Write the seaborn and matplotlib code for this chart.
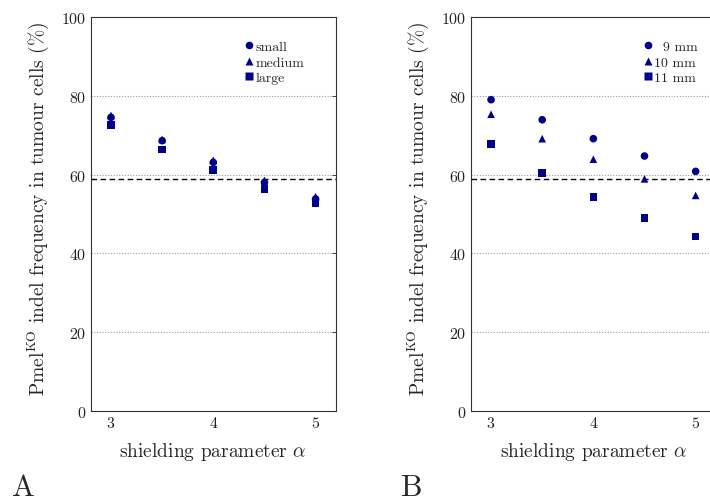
import matplotlib
matplotlib.use("Agg")
import matplotlib.pyplot as plt
import seaborn as sns
import pandas as pd

# Shielding parameter values
alpha = [3.0, 3.5, 4.0, 4.5, 5.0]

# Panel A: tumour size classes
small = [74.5, 68.6, 63.1, 58.0, 53.8]
medium = [75.0, 68.9, 63.6, 58.5, 54.4]
large = [72.5, 66.4, 61.2, 56.4, 52.8]

# Panel B: tumour diameters
d9 = [79.0, 73.9, 69.1, 64.7, 60.8]
d10 = [75.3, 69.1, 63.9, 58.9, 54.7]
d11 = [67.8, 60.4, 54.3, 48.9, 44.3]

# Reference (unshielded) frequency
baseline = 58.8

sns.set_theme(style="white")
plt.rcParams["font.family"] = ["cmr10", "DejaVu Serif"]
plt.rcParams["mathtext.fontset"] = "cm"
plt.rcParams["axes.formatter.use_mathtext"] = True

navy = "#00008B"

fig = plt.figure(figsize=(7.10, 5.02), dpi=100)
axA = fig.add_axes([0.1275, 0.1793, 0.3458, 0.785])
axB = fig.add_axes([0.6628, 0.1793, 0.3458, 0.785])


def long_form(series):
    rows = []
    for name, vals in series:
        for a, v in zip(alpha, vals):
            rows.append({"alpha": a, "freq": v, "group": name})
    return pd.DataFrame(rows)


dfA = long_form([("small", small), ("medium", medium), ("large", large)])
dfB = long_form([("\u2007" + "9 mm", d9), ("10 mm", d10), ("11 mm", d11)])

for ax, df, order, anchor in [
    (axA, dfA, ["small", "medium", "large"], (0.91, 0.965)),
    (axB, dfB, ["\u2007" + "9 mm", "10 mm", "11 mm"], (0.965, 0.965)),
]:
    for y in [20, 40, 60, 80]:
        ax.axhline(y, color="#999999", linestyle=(0, (1, 1.5)), linewidth=0.8, zorder=0)
    ax.axhline(baseline, color="black", linestyle=(0, (4, 2.5)), linewidth=1.0, zorder=1)
    sns.scatterplot(
        data=df, x="alpha", y="freq", style="group", style_order=order,
        markers={order[0]: "o", order[1]: "^", order[2]: "s"},
        color=navy, s=30, edgecolor="none", ax=ax, zorder=3,
    )
    ax.set_xlim(2.8, 5.2)
    ax.set_ylim(0, 100)
    ax.set_xticks([3, 4, 5])
    ax.set_yticks([0, 20, 40, 60, 80, 100])
    ax.tick_params(axis="both", direction="in", length=3, width=0.6,
                   labelsize=11.5, colors="#222222", pad=3)
    ax.tick_params(axis="y", right=True)
    ax.set_xlabel(r"shielding parameter $\alpha$", fontsize=14, labelpad=7)
    ax.set_ylabel(r"Pmel$^{\mathrm{KO}}$ indel frequency in tumour cells (%)",
                  fontsize=14, labelpad=3)
    ax.yaxis.set_label_coords(-0.16, 0.515)
    for sp in ax.spines.values():
        sp.set_color("#333333")
        sp.set_linewidth(0.8)
    leg = ax.legend(loc="upper right", bbox_to_anchor=anchor, frameon=False,
                    fontsize=10, handletextpad=0.05, handlelength=0.8,
                    labelspacing=0.2, borderpad=0.2, markerscale=1.0)
    for h in leg.legend_handles:
        h.set_color(navy)

fig.text(0.017, 0.012, "A", fontsize=22)
fig.text(0.565, 0.012, "B", fontsize=22)

fig.savefig("out.png", dpi=100)
